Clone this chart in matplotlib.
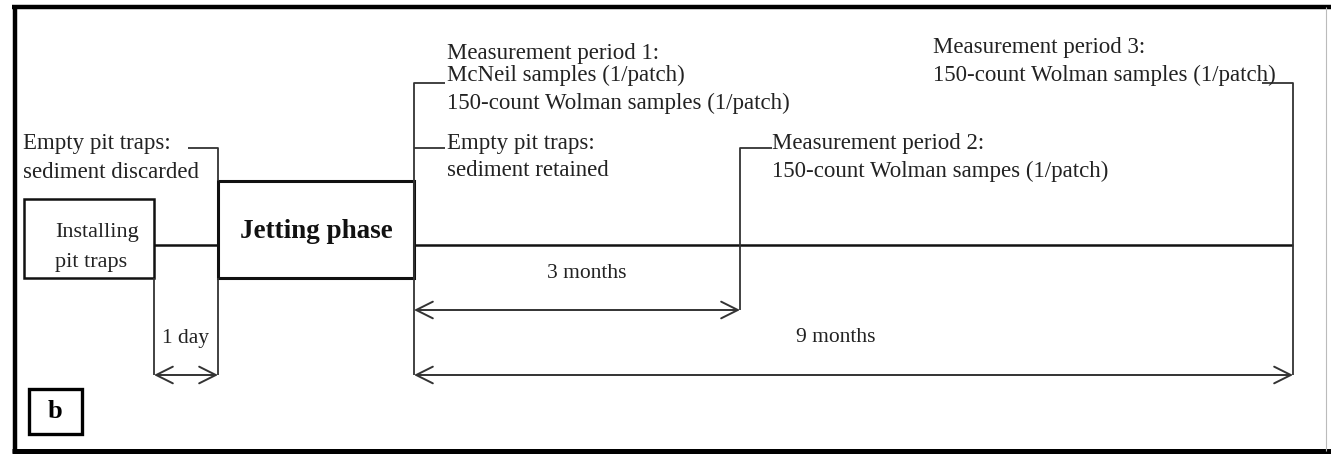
import matplotlib.pyplot as plt
from matplotlib.patches import Rectangle, FancyArrowPatch

plt.rcParams['font.family'] = ['Liberation Serif', 'DejaVu Serif']

# textes du schéma
phases = ["Installing", "pit traps", "Jetting phase"]
durees = ["1 day", "3 months", "9 months"]
note_vidage_1 = ["Empty pit traps:", "sediment discarded"]
note_mp1 = ["Measurement period 1:", "McNeil samples (1/patch)", "150-count Wolman samples (1/patch)"]
note_vidage_2 = ["Empty pit traps:", "sediment retained"]
note_mp2 = ["Measurement period 2:", "150-count Wolman sampes (1/patch)"]
note_mp3 = ["Measurement period 3:", "150-count Wolman samples (1/patch)"]
panneau = "b"

# repères de la frise (en pixels)
x_inst = (24, 154)
x_jet = (218, 414)
x_3mois = 740
x_9mois = 1293
y_axe = 245

fig = plt.figure(figsize=(13.31, 4.58), dpi=100)
ax = fig.add_axes([0, 0, 1, 1])
ax.set_xlim(0, 1331)
ax.set_ylim(458, 0)
ax.axis("off")

noir = "#111111"
gris = "#333333"
fs = 16.5


def trait(xs, ys, lw=1.3, c=gris):
    ax.plot(xs, ys, color=c, lw=lw, solid_capstyle="butt")


def fleche(x1, x2, y):
    a = FancyArrowPatch((x1, y), (x2, y), arrowstyle="<->,head_length=1.0,head_width=0.5",
                        mutation_scale=12, color=gris, lw=1.4, shrinkA=0, shrinkB=0)
    ax.add_patch(a)


def lignes(x, ys, textes, taille=fs):
    for y, t in zip(ys, textes):
        ax.text(x, y, t, fontsize=taille, va="center", ha="left", color="#222")


# cadre
trait([12, 1331], [7, 7], lw=3.2, c="black")
trait([12, 1331], [451, 451], lw=3.6, c="black")
trait([15, 15], [5, 453], lw=3.2, c="black")
trait([1326, 1326], [7, 451], lw=0.8, c="#bbbbbb")

# boîtes
ax.add_patch(Rectangle((x_inst[0], 199), x_inst[1] - x_inst[0], 79, fill=False, ec=noir, lw=1.8))
ax.add_patch(Rectangle((x_jet[0], 181), x_jet[1] - x_jet[0], 97, fill=False, ec=noir, lw=2.2))
lignes(55, [232, 262], phases[:2], taille=16)
ax.text(316, 231, phases[2], fontsize=19.5, fontweight="bold", va="center", ha="center", color="#111")

# axe principal
trait([x_inst[1], x_jet[0]], [y_axe, y_axe], lw=1.8, c=noir)
trait([x_jet[1], x_9mois], [y_axe, y_axe], lw=1.8, c=noir)

# premier vidage
lignes(23, [143, 172], note_vidage_1)
trait([188, x_jet[0], x_jet[0]], [148, 148, 181])

# 1 jour
trait([x_inst[1], x_inst[1]], [278, 375])
trait([x_jet[0], x_jet[0]], [278, 375])
fleche(x_inst[1], x_jet[0], 375)
ax.text(186, 338, durees[0], fontsize=15.5, va="center", ha="center", color="#222")

# période 1
lignes(447, [53, 75, 103], note_mp1)
lignes(447, [143, 171], note_vidage_2)
trait([445, x_jet[1], x_jet[1]], [83, 83, 375])
trait([x_jet[1], 445], [148, 148])

# période 2
lignes(772, [143, 171], note_mp2)
trait([772, x_3mois, x_3mois], [148, 148, 310])
fleche(x_jet[1], x_3mois, 310)
ax.text(587, 273, durees[1], fontsize=15.5, va="center", ha="center", color="#222")

# période 3
lignes(933, [48, 75], note_mp3)
trait([1262, x_9mois, x_9mois], [83, 83, 375])
fleche(x_jet[1], x_9mois, 375)
ax.text(836, 337, durees[2], fontsize=15.5, va="center", ha="center", color="#222")

# lettre du panneau
ax.add_patch(Rectangle((29, 389), 53, 45, fill=False, ec="black", lw=2.4))
ax.text(55, 412, panneau, fontsize=19, fontweight="bold", va="center", ha="center")

fig.savefig("out.png", dpi=100)
